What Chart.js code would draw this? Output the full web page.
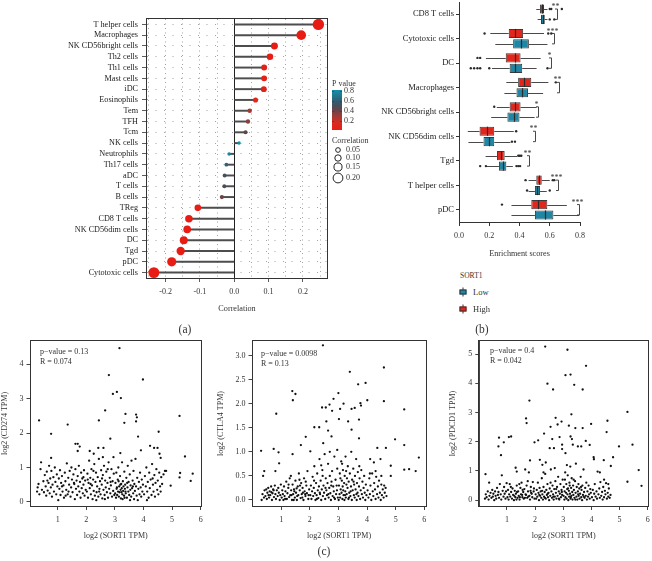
<!DOCTYPE html>
<html>
<head>
<meta charset="utf-8">
<script src="https://cdn.jsdelivr.net/npm/chart.js@4.4.1/dist/chart.umd.min.js"></script>
<style>
  body { margin: 0; background: #fff; width: 652px; height: 561px; position: relative; overflow: hidden;
         font-family: "Liberation Serif", "Times New Roman", serif; color: #333; }
  .panel { position: absolute; }
  .txt { position: absolute; white-space: nowrap; font-size: 8px; line-height: 1; color: #333; transform: translateY(-50%); }
  .tag { position: absolute; font-size: 11.5px; color: #333; transform: translate(-50%, -50%); }
  .key { position: absolute; width: 7px; height: 9px; transform: translate(-50%, -50%); }
  .key .stem { position: absolute; left: 3px; top: 0; width: 1px; height: 9px; background: #333; }
  .key .body { position: absolute; left: 0; top: 2px; width: 5px; height: 3px; border: 1px solid #333; }
</style>
</head>
<body>
<div class="panel" style="left:0;top:0;width:380px;height:318px"><canvas id="corrChart"></canvas></div>
<div class="panel" style="left:380px;top:0;width:272px;height:262px"><canvas id="boxChart"></canvas></div>
<div class="panel" style="left:0;top:335px;width:215px;height:225px"><canvas id="cd274Chart"></canvas></div>
<div class="panel" style="left:215px;top:335px;width:215px;height:225px"><canvas id="ctla4Chart"></canvas></div>
<div class="panel" style="left:430px;top:335px;width:222px;height:225px"><canvas id="pdcd1Chart"></canvas></div>

<div class="tag" style="left:185px;top:329px">(a)</div>
<div class="tag" style="left:482px;top:329px">(b)</div>
<div class="tag" style="left:324px;top:551px">(c)</div>

<div class="txt" style="left:460px;top:276px;font-size:7.5px">SORT1</div>
<div class="key" style="left:463px;top:292px"><div class="stem"></div><div class="body" style="background:#1f87a5"></div></div>
<div class="txt" style="left:473px;top:292px;font-size:8.5px">Low</div>
<div class="key" style="left:463px;top:309px"><div class="stem"></div><div class="body" style="background:#e2261c"></div></div>
<div class="txt" style="left:473px;top:309px;font-size:8.5px">High</div>

<div class="txt" style="left:40px;top:352px">p&#8722;value = 0.13</div>
<div class="txt" style="left:40px;top:362px">R = 0.074</div>
<div class="txt" style="left:261px;top:354px">p&#8722;value = 0.0098</div>
<div class="txt" style="left:261px;top:364px">R = 0.13</div>
<div class="txt" style="left:490px;top:351px">p&#8722;value = 0.4</div>
<div class="txt" style="left:490px;top:361px">R = 0.042</div>

<script>
// ---------- (a) correlation of SORT1 with immune cell infiltration ----------
const cellsA = ['T helper cells', 'Macrophages', 'NK CD56bright cells', 'Th2 cells', 'Th1 cells', 'Mast cells',
  'iDC', 'Eosinophils', 'Tem', 'TFH', 'Tcm', 'NK cells', 'Neutrophils', 'Th17 cells', 'aDC', 'T cells',
  'B cells', 'TReg', 'CD8 T cells', 'NK CD56dim cells', 'DC', 'Tgd', 'pDC', 'Cytotoxic cells'];
const corrValues = [0.245, 0.195, 0.117, 0.104, 0.087, 0.087, 0.086, 0.062, 0.045, 0.040, 0.033, 0.014,
  -0.015, -0.023, -0.028, -0.029, -0.036, -0.106, -0.132, -0.137, -0.147, -0.156, -0.182, -0.234];
const corrPValues = [0.00, 0.00, 0.01, 0.02, 0.04, 0.04, 0.04, 0.12, 0.30, 0.34, 0.45, 0.80,
  0.76, 0.62, 0.52, 0.50, 0.40, 0.02, 0.00, 0.00, 0.00, 0.00, 0.00, 0.00];
const corrTicks = [-0.25, -0.2, -0.15, -0.1, -0.05, 0, 0.05, 0.1, 0.15, 0.2, 0.25];
const pLegendTicks = [0.8, 0.6, 0.4, 0.2];
const sizeLegendTicks = [0.05, 0.10, 0.15, 0.20];

// ---------- (b) enrichment scores, SORT1 high vs low ----------
const cellsB = ['CD8 T cells', 'Cytotoxic cells', 'DC', 'Macrophages', 'NK CD56bright cells',
  'NK CD56dim cells', 'Tgd', 'T helper cells', 'pDC'];
const highLo  = [0.511, 0.207, 0.178, 0.313, 0.250, 0.058, 0.176, 0.460, 0.347];
const highQ1  = [0.535, 0.329, 0.309, 0.391, 0.335, 0.136, 0.251, 0.511, 0.478];
const highMed = [0.549, 0.373, 0.369, 0.429, 0.369, 0.184, 0.278, 0.527, 0.522];
const highQ3  = [0.562, 0.424, 0.407, 0.478, 0.407, 0.233, 0.302, 0.547, 0.584];
const highHi  = [0.585, 0.562, 0.540, 0.591, 0.513, 0.362, 0.384, 0.600, 0.713];
const highOut = [[0.600, 0.610, 0.680], [0.169, 0.590, 0.610], [0.122, 0.140], [0.640], [0.233],
  [0.378], [0.392, 0.402, 0.412], [0.440, 0.620, 0.630], [0.284]];
const lowLo  = [0.520, 0.240, 0.218, 0.300, 0.213, 0.062, 0.180, 0.460, 0.347];
const lowQ1  = [0.542, 0.358, 0.335, 0.380, 0.320, 0.162, 0.264, 0.502, 0.502];
const lowMed = [0.555, 0.413, 0.373, 0.418, 0.362, 0.196, 0.289, 0.518, 0.567];
const lowQ3  = [0.567, 0.462, 0.418, 0.456, 0.400, 0.233, 0.313, 0.536, 0.624];
const lowHi  = [0.585, 0.585, 0.513, 0.556, 0.500, 0.340, 0.356, 0.580, 0.795];
const lowOut = [[0.600, 0.630], [], [0.078, 0.100, 0.122, 0.140, 0.200, 0.585], [], [],
  [0.350, 0.370], [0.140, 0.178, 0.380, 0.392, 0.404], [0.450, 0.600], []];
const sigLabels = ['**', '***', '*', '**', '*', '**', '**', '***', '***'];
const sigPos = [0.650, 0.627, 0.610, 0.660, 0.524, 0.500, 0.460, 0.653, 0.795];
const enrichTicks = [0, 0.2, 0.4, 0.6, 0.8];

// ---------- (c) SORT1 vs checkpoint genes ----------
const sortTicks = [1, 2, 3, 4, 5, 6];
const cd274Ticks = [0, 1, 2, 3, 4];
const ctla4Ticks = [0, 0.5, 1, 1.5, 2, 2.5, 3];
const pdcd1Ticks = [0, 1, 2, 3, 4, 5];

const cd274Points = [
  [3.16,4.47],[3.98,3.56],[2.79,3.69],[3.07,3.2],[2.93,3.14],[3.21,3.02],[2.66,2.66],[3.37,2.56],[3.74,2.54],
  [3.77,2.46],[3.33,2.3],[3.74,2.34],[2.44,2.37],[0.35,2.37],[1.35,2.25],[5.26,2.5],[0.77,1.98],[4.53,2.04],
  [3.81,1.9],[2.84,1.84],[1.62,1.69],[1.7,1.69],[1.77,1.61],[1.7,1.48],[4.23,1.63],[4.37,1.57],[4.49,1.57],
  [2.42,1.57],[2.6,1.57],[2.12,1.48],[3.91,1.5],[4.56,1.4],[5.45,1.32],[3.19,1.42],[2.26,1.4],[4.6,1.28],
  [0.77,1.28],[5.72,0.82],[5.28,0.84],[5.26,0.71],[5.65,0.61],[4.95,0.47],[4.79,0.9],
  [0.28,0.3],[0.3,0.42],[0.33,0.52],[0.36,0.22],[0.4,0.95],[0.42,1.15],[0.45,0.35],[0.5,0.6],[0.52,0.28],
  [0.55,0.78],[0.58,0.45],[0.6,0.18],[0.62,0.88],[0.65,0.33],[0.68,0.55],[0.7,1.05],[0.72,0.25],[0.74,0.68],
  [0.76,0.42],[0.78,0.9],[0.8,0.15],[0.82,0.5],[0.85,0.72],[0.87,0.3],[0.9,1.0],[0.92,0.58],[0.95,0.22],
  [0.97,0.8],[0.99,0.45],[0.64,0.62],
  [1.02,0.05],[1.04,0.68],[1.06,0.38],[1.08,0.92],[1.1,0.2],[1.12,0.55],[1.15,0.75],[1.17,0.3],[1.2,0.48],
  [1.22,0.12],[1.25,0.85],[1.27,0.6],[1.3,0.35],[1.32,1.12],[1.35,0.22],[1.37,0.7],[1.4,0.5],[1.42,0.9],
  [1.45,0.15],[1.47,0.42],[1.5,0.65],[1.52,0.28],[1.55,0.8],[1.57,0.55],[1.6,0.08],[1.62,0.95],[1.64,0.38],
  [1.66,0.62],[1.68,0.2],[1.7,0.75],[1.72,0.45],[1.74,1.05],[1.76,0.3],[1.78,0.58],[1.8,0.12],[1.82,0.85],
  [1.84,0.4],[1.86,0.68],[1.88,0.25],[1.9,0.5],[1.92,0.92],[1.94,0.18],[1.96,0.62],[1.98,0.35],[1.15,0.45],
  [1.38,0.3],[1.58,0.52],[1.28,0.18],[1.48,1.0],[1.9,0.72],
  [2.02,0.3],[2.04,0.82],[2.06,0.12],[2.08,0.55],[2.1,1.2],[2.12,0.4],[2.14,0.7],[2.16,0.22],[2.18,0.95],
  [2.2,0.48],[2.22,0.08],[2.24,0.65],[2.26,0.32],[2.28,1.1],[2.3,0.18],[2.32,0.58],[2.34,0.85],[2.36,0.28],
  [2.38,0.45],[2.4,0.72],[2.42,0.15],[2.44,1.25],[2.46,0.38],[2.48,0.6],[2.5,0.22],[2.52,0.92],[2.54,0.5],
  [2.56,0.1],[2.58,0.78],[2.6,0.35],[2.62,1.05],[2.64,0.2],[2.66,0.62],[2.68,0.42],[2.7,0.88],[2.72,0.28],
  [2.74,0.55],[2.76,0.12],[2.78,1.15],[2.8,0.38],[2.82,0.7],[2.84,0.25],[2.86,0.48],[2.88,0.95],[2.9,0.15],
  [2.92,0.6],[2.94,0.32],[2.96,0.82],[2.98,0.2],[2.15,0.52],[2.35,0.05],[2.55,0.68],[2.75,0.95],[2.45,0.3],
  [2.65,0.08],[2.85,0.58],[2.25,0.9],[2.05,0.65],[2.95,1.3],[2.58,1.3],
  [3.01,0.25],[3.02,0.55],[3.04,0.12],[3.05,0.85],[3.06,0.38],[3.08,0.2],[3.1,0.65],[3.11,0.3],[3.12,1.0],
  [3.14,0.15],[3.15,0.45],[3.16,0.28],[3.18,0.75],[3.2,0.35],[3.21,0.1],[3.22,0.52],[3.24,0.4],[3.25,1.15],
  [3.26,0.22],[3.28,0.6],[3.29,0.32],[3.3,0.45],[3.32,0.18],[3.33,0.88],[3.35,0.38],[3.36,0.5],[3.38,0.25],
  [3.4,0.7],[3.42,0.12],[3.44,0.42],[3.45,1.05],[3.47,0.3],[3.48,0.58],[3.5,0.2],[3.52,0.8],[3.54,0.35],
  [3.55,0.48],[3.57,0.15],[3.58,1.2],[3.6,0.4],[3.62,0.62],[3.64,0.25],[3.65,0.9],[3.67,0.08],[3.68,0.52],
  [3.7,0.32],[3.72,1.25],[3.74,0.45],[3.76,0.18],[3.78,0.7],[3.8,0.05],[3.82,0.38],[3.84,0.58],[3.86,0.22],
  [3.88,0.85],[3.9,0.42],[3.92,0.15],[3.94,0.65],[3.96,0.3],[3.98,0.5],[3.07,0.42],[3.19,0.5],[3.27,0.08],
  [3.37,0.3],[3.43,0.55],[3.53,0.05],[3.63,0.45],[3.13,0.6],[3.23,0.28],[3.34,0.12],
  [4.02,0.22],[4.05,0.75],[4.08,0.45],[4.1,1.0],[4.13,0.3],[4.15,0.58],[4.18,0.12],[4.2,0.85],[4.22,0.4],
  [4.25,0.65],[4.28,0.2],[4.3,1.1],[4.33,0.5],[4.35,0.3],[4.38,0.78],[4.4,0.15],[4.42,0.55],[4.45,0.95],
  [4.48,0.35],[4.5,0.62],[4.52,0.22],[4.55,0.85],[4.58,0.45],[4.6,0.3],[4.62,0.72],[4.65,0.52],[4.7,0.8],
  [4.75,0.9],[4.12,0.05],[4.32,0.68]
];

const ctla4Points = [
  [2.46,3.21],[3.4,2.66],[4.59,2.75],[3.69,2.4],[3.95,2.43],[3.0,2.22],[1.39,2.26],[1.5,2.2],[1.41,2.07],
  [2.83,2.1],[3.18,2.0],[3.06,1.89],[2.43,1.92],[2.56,1.92],[2.69,1.98],[2.78,1.85],[3.46,1.89],[3.57,1.91],
  [3.77,2.01],[3.79,1.96],[4.01,2.07],[4.59,2.05],[5.3,1.88],[0.83,1.79],[2.58,1.63],[3.34,1.63],[3.72,1.67],
  [2.16,1.51],[2.33,1.51],[3.02,1.68],[2.64,1.44],[2.76,1.32],[1.86,1.31],[3.46,1.46],[3.72,1.28],[4.98,1.26],
  [5.3,1.14],[1.69,1.14],[2.47,1.18],[2.96,1.04],[4.36,1.08],[4.66,1.08],[0.3,1.02],[0.74,1.06],[0.91,0.99],
  [1.4,0.95],[2.02,1.01],[5.81,0.88],[4.11,0.85],[4.24,0.78],[4.47,0.85],[4.83,0.71],[0.93,0.76],[5.3,0.63],
  [5.47,0.64],[5.7,0.6],[0.41,0.6],[0.37,0.5],[0.8,0.6],[4.83,0.5],
  [0.32,0.0],[0.35,0.12],[0.4,0.05],[0.42,0.2],[0.45,0.08],[0.48,0.22],[0.5,0.02],[0.52,0.15],[0.55,0.25],
  [0.58,0.05],[0.6,0.18],[0.62,0.1],[0.65,0.28],[0.68,0.0],[0.7,0.14],[0.72,0.22],[0.75,0.06],[0.78,0.3],
  [0.8,0.12],[0.82,0.02],[0.85,0.2],[0.88,0.08],[0.9,0.25],[0.92,0.15],[0.95,0.0],[0.97,0.1],[0.99,0.32],
  [0.66,0.16],[0.74,0.2],[0.56,0.1],
  [1.02,0.05],[1.04,0.2],[1.06,0.12],[1.08,0.0],[1.1,0.28],[1.12,0.08],[1.15,0.18],[1.18,0.38],[1.2,0.02],
  [1.22,0.14],[1.25,0.25],[1.28,0.06],[1.3,0.45],[1.32,0.1],[1.35,0.2],[1.38,0.0],[1.4,0.32],[1.42,0.12],
  [1.45,0.22],[1.48,0.05],[1.5,0.4],[1.52,0.15],[1.55,0.0],[1.58,0.28],[1.6,0.1],[1.62,0.55],[1.65,0.2],
  [1.68,0.04],[1.7,0.35],[1.72,0.12],[1.75,0.25],[1.78,0.0],[1.8,0.45],[1.82,0.18],[1.85,0.08],[1.88,0.3],
  [1.9,0.14],[1.92,0.6],[1.95,0.02],[1.98,0.22],[1.14,0.02],[1.26,0.32],[1.36,0.1],[1.46,0.18],[1.56,0.08],
  [1.66,0.3],[1.76,0.15],[1.86,0.38],[1.96,0.1],[1.34,0.5],[1.44,0.0],[1.54,0.24],[1.64,0.42],[1.74,0.05],
  [1.84,0.12],
  [2.02,0.1],[2.04,0.3],[2.06,0.02],[2.08,0.18],[2.1,0.48],[2.12,0.08],[2.14,0.25],[2.16,0.7],[2.18,0.14],
  [2.2,0.0],[2.22,0.35],[2.24,0.1],[2.26,0.55],[2.28,0.2],[2.3,0.04],[2.32,0.28],[2.34,0.85],[2.36,0.12],
  [2.38,0.4],[2.4,0.0],[2.42,0.22],[2.44,0.62],[2.46,0.08],[2.48,0.3],[2.5,0.15],[2.52,0.95],[2.54,0.02],
  [2.56,0.45],[2.58,0.2],[2.6,0.1],[2.62,0.35],[2.64,0.75],[2.66,0.05],[2.68,0.25],[2.7,0.5],[2.72,0.14],
  [2.74,0.0],[2.76,0.38],[2.78,0.6],[2.8,0.08],[2.82,0.28],[2.84,0.18],[2.86,0.9],[2.88,0.02],[2.9,0.42],
  [2.92,0.12],[2.94,0.3],[2.96,0.65],[2.98,0.05],[2.15,0.4],[2.25,0.02],[2.35,0.15],[2.45,0.5],[2.55,0.25],
  [2.65,0.12],[2.75,0.3],[2.85,0.05],[2.95,0.2],[2.4,0.72],[2.7,1.0],
  [3.01,0.0],[3.02,0.3],[3.04,0.12],[3.05,0.55],[3.06,0.05],[3.08,0.22],[3.1,0.8],[3.11,0.15],[3.12,0.4],
  [3.14,0.02],[3.15,0.28],[3.16,0.62],[3.18,0.1],[3.2,0.35],[3.21,0.0],[3.22,0.5],[3.24,0.18],[3.25,0.9],
  [3.26,0.05],[3.28,0.32],[3.29,0.12],[3.3,0.45],[3.32,0.25],[3.33,0.7],[3.35,0.02],[3.36,0.38],[3.38,0.15],
  [3.4,0.55],[3.42,0.08],[3.44,0.28],[3.45,1.0],[3.47,0.0],[3.48,0.42],[3.5,0.2],[3.52,0.65],[3.54,0.1],
  [3.55,0.32],[3.57,0.05],[3.58,0.5],[3.6,0.22],[3.62,0.85],[3.64,0.0],[3.65,0.35],[3.67,0.15],[3.68,0.58],
  [3.7,0.08],[3.72,0.28],[3.74,0.45],[3.76,0.02],[3.78,0.2],[3.8,0.62],[3.82,0.12],[3.84,0.38],[3.86,0.05],
  [3.88,0.25],[3.9,0.5],[3.92,0.15],[3.94,0.0],[3.96,0.32],[3.98,0.1],[3.07,0.45],[3.17,0.2],[3.27,0.6],
  [3.37,0.05],[3.43,0.18],[3.53,0.38],[3.63,0.12],[3.73,0.7],[3.13,0.75],[3.23,0.1],
  [4.02,0.2],[4.05,0.05],[4.08,0.45],[4.1,0.12],[4.12,0.3],[4.15,0.0],[4.18,0.55],[4.2,0.18],[4.22,0.08],
  [4.25,0.35],[4.28,0.22],[4.3,0.02],[4.32,0.48],[4.35,0.12],[4.38,0.28],[4.4,0.05],[4.42,0.4],[4.45,0.15],
  [4.48,0.0],[4.5,0.32],[4.52,0.1],[4.55,0.22],[4.58,0.05],[4.6,0.3],[4.62,0.15],[4.65,0.25],[4.68,0.08],
  [4.1,0.55],[4.3,0.6],[4.5,0.5]
];

const pdcd1Points = [
  [2.36,5.26],[3.15,5.15],[3.81,4.6],[3.08,4.28],[3.26,4.3],[2.44,3.99],[3.39,3.95],[2.64,3.79],[3.69,3.79],
  [1.8,3.41],[5.28,3.02],[3.29,2.94],[1.68,2.8],[2.73,2.82],[1.7,2.64],[2.94,2.69],[4.57,2.72],[2.8,2.59],
  [2.55,2.51],[3.2,2.55],[3.43,2.47],[3.69,2.47],[3.99,2.61],[2.32,2.28],[4.54,2.33],[0.72,2.14],[1.07,2.16],
  [1.15,2.18],[0.89,1.98],[1.98,1.98],[2.11,2.05],[2.61,2.09],[2.87,2.16],[3.26,2.18],[3.31,2.09],[2.96,1.9],
  [3.34,1.9],[2.52,1.78],[2.67,1.78],[3.8,2.03],[2.96,1.75],[3.08,1.61],[3.52,1.84],[3.64,1.84],[3.94,1.89],
  [4.98,1.84],[5.46,1.9],[0.7,1.84],[0.79,1.54],[4.77,1.47],[4.08,1.47],[4.09,1.4],[4.44,1.37],[1.82,1.36],
  [2.17,1.38],[2.26,1.21],[2.38,1.29],[1.31,1.11],[1.35,0.98],[0.24,0.89],[5.68,1.03],[5.78,0.49],[5.28,0.63],
  [4.69,1.17],[0.37,0.6],
  [0.22,0.05],[0.25,0.2],[0.28,0.1],[0.32,0.3],[0.35,0.02],[0.38,0.15],[0.42,0.25],[0.45,0.08],[0.48,0.35],
  [0.5,0.12],[0.52,0.22],[0.55,0.0],[0.58,0.3],[0.6,0.15],[0.62,0.05],[0.65,0.42],[0.68,0.18],[0.7,0.28],
  [0.72,0.08],[0.75,0.55],[0.78,0.2],[0.8,0.02],[0.82,0.85],[0.85,0.32],[0.88,0.12],[0.9,0.45],[0.92,0.22],
  [0.95,0.05],[0.97,0.3],[0.99,0.58],
  [1.02,0.1],[1.04,0.35],[1.06,0.02],[1.08,0.2],[1.1,0.55],[1.12,0.12],[1.15,0.28],[1.18,0.05],[1.2,0.4],
  [1.22,0.18],[1.25,0.0],[1.28,0.32],[1.3,0.1],[1.32,0.22],[1.35,0.5],[1.38,0.08],[1.4,0.3],[1.42,0.15],
  [1.45,0.02],[1.48,0.42],[1.5,0.2],[1.52,0.6],[1.55,0.1],[1.58,0.28],[1.6,0.05],[1.62,0.38],[1.65,1.05],
  [1.68,0.18],[1.7,0.5],[1.72,0.08],[1.75,0.3],[1.78,0.95],[1.8,0.15],[1.82,0.02],[1.85,0.45],[1.88,0.22],
  [1.9,0.1],[1.92,0.62],[1.95,0.3],[1.98,0.05],[1.14,0.45],[1.26,0.15],[1.36,0.28],[1.46,0.1],[1.56,0.35],
  [1.66,0.2],[1.76,0.12],[1.86,0.25],[1.96,0.4],[1.34,0.02],[1.44,0.55],[1.54,0.18],[1.64,0.08],[1.74,0.65],
  [1.84,0.32],
  [2.02,0.2],[2.04,0.05],[2.06,0.35],[2.08,0.12],[2.1,0.6],[2.12,0.25],[2.14,0.0],[2.16,0.42],[2.18,0.15],
  [2.2,0.3],[2.22,0.08],[2.24,0.75],[2.26,0.2],[2.28,0.02],[2.3,0.45],[2.32,0.12],[2.34,0.28],[2.36,0.9],
  [2.38,0.05],[2.4,0.35],[2.42,0.18],[2.44,0.55],[2.46,0.1],[2.48,0.25],[2.5,0.0],[2.52,0.4],[2.54,0.15],
  [2.56,1.05],[2.58,0.3],[2.6,0.08],[2.62,0.5],[2.64,0.2],[2.66,0.02],[2.68,0.38],[2.7,0.12],[2.72,0.65],
  [2.74,0.25],[2.76,0.05],[2.78,0.45],[2.8,0.15],[2.82,0.8],[2.84,0.3],[2.86,0.02],[2.88,0.22],[2.9,0.55],
  [2.92,0.1],[2.94,0.35],[2.96,0.18],[2.98,0.7],[2.15,0.18],[2.25,0.32],[2.35,0.08],[2.45,0.22],[2.55,0.6],
  [2.65,0.12],[2.75,0.38],[2.85,0.05],[2.95,0.28],[2.3,0.95],[2.7,1.1],
  [3.01,0.15],[3.02,0.45],[3.04,0.02],[3.05,0.3],[3.06,0.7],[3.08,0.1],[3.1,0.25],[3.11,0.55],[3.12,0.05],
  [3.14,0.38],[3.15,0.2],[3.16,0.85],[3.18,0.0],[3.2,0.32],[3.21,0.12],[3.22,0.6],[3.24,0.22],[3.25,1.15],
  [3.26,0.05],[3.28,0.42],[3.29,0.15],[3.3,0.75],[3.32,0.28],[3.33,0.02],[3.35,0.5],[3.36,0.18],[3.38,0.35],
  [3.4,0.08],[3.42,0.65],[3.44,0.25],[3.45,1.25],[3.47,0.12],[3.48,0.45],[3.5,0.02],[3.52,0.3],[3.54,0.55],
  [3.55,0.15],[3.57,0.4],[3.58,0.05],[3.6,0.22],[3.62,0.8],[3.64,0.1],[3.65,0.35],[3.67,0.0],[3.68,0.5],
  [3.7,0.18],[3.72,1.05],[3.74,0.28],[3.76,0.08],[3.78,0.42],[3.8,0.15],[3.82,0.6],[3.84,0.02],[3.86,0.3],
  [3.88,0.12],[3.9,0.5],[3.92,0.2],[3.94,0.05],[3.96,0.38],[3.98,0.25],[3.07,0.95],[3.17,0.4],[3.27,0.1],
  [3.37,0.7],[3.43,0.02],[3.53,0.2],[3.63,0.45],[3.73,0.12],[3.13,1.2],[3.23,0.5],
  [4.02,0.1],[4.05,0.35],[4.08,0.0],[4.1,0.22],[4.12,0.55],[4.15,0.12],[4.18,0.3],[4.2,0.05],[4.22,0.98],
  [4.25,0.2],[4.28,0.4],[4.3,0.08],[4.32,0.62],[4.35,0.15],[4.38,0.28],[4.4,0.02],[4.42,0.45],[4.45,0.1],
  [4.48,0.32],[4.5,0.2],[4.52,0.58],[4.55,0.05],[4.58,0.25],[4.6,0.12],[4.62,0.4],[4.65,0.08],[4.68,0.18],
  [4.3,0.95],[4.45,0.7],[4.6,0.55]
];

Chart.defaults.font.family = '"Liberation Serif", "Times New Roman", serif';
Chart.defaults.color = '#333';

// P value colour ramp (red = small p, teal = large p)
const pStops = [[0, [232, 28, 20]], [0.15, [222, 42, 30]], [0.3, [160, 60, 56]], [0.45, [88, 70, 80]],
  [0.6, [46, 94, 112]], [0.8, [22, 142, 168]], [1, [22, 150, 176]]];
function pColor(p) {
  for (let k = 1; k < pStops.length; k++) {
    if (p <= pStops[k][0]) {
      const [a, ca] = pStops[k - 1], [b, cb] = pStops[k];
      const t = (p - a) / (b - a);
      return 'rgb(' + ca.map((c, j) => Math.round(c + (cb[j] - c) * t)).join(',') + ')';
    }
  }
  return 'rgb(22,150,176)';
}
const dotRadius = c => 1.5 + 17 * Math.abs(c);

// fixes an axis' size and drops the label overhang padding
const fixAxis = size => s => {
  if (s.isHorizontal()) s.height = size; else s.width = size;
  s.paddingTop = s.paddingBottom = s.paddingLeft = s.paddingRight = 0;
};

const framePlugin = {
  id: 'frame',
  afterDraw(chart) {
    const {ctx, chartArea: a} = chart;
    ctx.save();
    ctx.strokeStyle = '#333';
    ctx.lineWidth = 1;
    const l = Math.round(a.left) - 0.5, t = Math.round(a.top) - 0.5;
    ctx.strokeRect(l, t, Math.round(a.right) - Math.round(a.left) + 1, Math.round(a.bottom) - Math.round(a.top) + 1);
    ctx.restore();
  }
};

const zeroLinePlugin = {
  id: 'zeroLine',
  beforeDatasetsDraw(chart) {
    const {ctx, chartArea: a, scales: {x}} = chart;
    const px = Math.round(x.getPixelForValue(0)) + 0.5;
    ctx.save();
    ctx.strokeStyle = '#222';
    ctx.lineWidth = 1;
    ctx.beginPath();
    ctx.moveTo(px, a.top);
    ctx.lineTo(px, a.bottom);
    ctx.stroke();
    ctx.restore();
  }
};

// P value colour bar + correlation size key, right of panel (a)
const pLegendPlugin = {
  id: 'pLegend',
  afterDraw(chart) {
    const {ctx, chartArea: a} = chart;
    const left = a.right + 5;
    const barTop = 90, barBottom = 130, pTop = 0.82, pBottom = 0.02;
    const yOfP = p => barBottom - (p - pBottom) / (pTop - pBottom) * (barBottom - barTop);
    ctx.save();
    ctx.fillStyle = '#333';
    ctx.font = '8px "Liberation Serif"';
    ctx.textBaseline = 'middle';
    ctx.fillText('P value', left, 84);
    const grad = ctx.createLinearGradient(0, barBottom, 0, barTop);
    for (let k = 0; k <= 10; k++) {
      const p = pBottom + (pTop - pBottom) * k / 10;
      grad.addColorStop(k / 10, pColor(p));
    }
    ctx.fillStyle = grad;
    ctx.fillRect(left, barTop, 10, barBottom - barTop);
    ctx.fillStyle = '#333';
    pLegendTicks.forEach(p => {
      const y = yOfP(p);
      ctx.fillRect(left, y, 2, 0.6);
      ctx.fillRect(left + 8, y, 2, 0.6);
      ctx.fillText(p.toFixed(1), left + 12, y);
    });
    ctx.fillText('Correlation', left, 141);
    const circleY = [150, 158, 167, 178];
    ctx.strokeStyle = '#222';
    ctx.lineWidth = 1;
    sizeLegendTicks.forEach((c, k) => {
      ctx.beginPath();
      ctx.arc(left + 6, circleY[k], dotRadius(c), 0, Math.PI * 2);
      ctx.stroke();
      ctx.fillText(c.toFixed(2), left + 14, circleY[k]);
    });
    ctx.restore();
  }
};

// ---------- panel (a) ----------
new Chart(document.getElementById('corrChart'), {
  type: 'bar',
  data: {
    labels: cellsA,
    datasets: [
      {
        type: 'line', indexAxis: 'y', data: corrValues, showLine: false,
        pointRadius: corrValues.map(dotRadius), pointHoverRadius: corrValues.map(dotRadius),
        pointBackgroundColor: corrPValues.map(pColor), pointBorderWidth: 0, order: 0
      },
      { type: 'bar', indexAxis: 'y', data: corrValues, backgroundColor: '#4d4d4d', barThickness: 1.3, order: 1 }
    ]
  },
  options: {
    indexAxis: 'y',
    responsive: true,
    maintainAspectRatio: false,
    animation: false,
    events: [],
    layout: { padding: { top: 19, right: 53, left: 0, bottom: 0 } },
    plugins: { legend: { display: false }, tooltip: { enabled: false } },
    scales: {
      x: {
        type: 'linear', min: -0.254, max: 0.27,
        afterBuildTicks: s => { s.ticks = corrTicks.map(v => ({ value: v })); },
        afterFit: fixAxis(40),
        ticks: {
          font: { size: 8 }, color: '#333', padding: 5.5, maxRotation: 0, autoSkip: false,
          callback: v => (Math.round(v * 100) % 10 === 0 ? v.toFixed(1) : '')
        },
        grid: {
          color: '#8c8c8c', lineWidth: 0.8, tickLength: 4,
          tickColor: c => (c.tick && c.tick.label ? '#333' : 'rgba(0,0,0,0)')
        },
        border: { display: false, dash: [1, 3.5] },
        title: { display: true, text: 'Correlation', font: { size: 8.2 }, color: '#333', padding: { top: 0, bottom: 4.6 } }
      },
      y: {
        type: 'category', offset: true,
        afterFit: fixAxis(147),
        ticks: { font: { size: 8.2 }, color: '#222', padding: 4, autoSkip: false },
        grid: { offset: false, color: '#8c8c8c', lineWidth: 0.8, tickLength: 5, tickColor: '#333' },
        border: { display: false, dash: [1, 7.5] }
      }
    }
  },
  plugins: [zeroLinePlugin, framePlugin, pLegendPlugin]
});

// ---------- panel (b) ----------
const boxGroups = [
  { lo: highLo, med: highMed, q1: highQ1, q3: highQ3, hi: highHi, out: highOut },
  { lo: lowLo, med: lowMed, q1: lowQ1, q3: lowQ3, hi: lowHi, out: lowOut }
];

const boxPlugin = {
  id: 'boxExtras',
  beforeDatasetsDraw(chart) {
    const {ctx, scales: {x}} = chart;
    ctx.save();
    ctx.strokeStyle = '#4a4a4a';
    ctx.lineWidth = 1;
    boxGroups.forEach((g, d) => {
      chart.getDatasetMeta(d).data.forEach((el, i) => {
        const y = Math.round(el.y) + 0.5;
        ctx.beginPath();
        ctx.moveTo(x.getPixelForValue(g.lo[i]), y);
        ctx.lineTo(x.getPixelForValue(g.q1[i]), y);
        ctx.moveTo(x.getPixelForValue(g.q3[i]), y);
        ctx.lineTo(x.getPixelForValue(g.hi[i]), y);
        ctx.stroke();
      });
    });
    ctx.restore();
  },
  afterDatasetsDraw(chart) {
    const {ctx, scales: {x}} = chart;
    ctx.save();
    boxGroups.forEach((g, d) => {
      chart.getDatasetMeta(d).data.forEach((el, i) => {
        const mx = Math.round(x.getPixelForValue(g.med[i])) + 0.5;
        ctx.strokeStyle = '#2a2a2a';
        ctx.lineWidth = 1.2;
        ctx.beginPath();
        ctx.moveTo(mx, el.y - el.height / 2);
        ctx.lineTo(mx, el.y + el.height / 2);
        ctx.stroke();
        ctx.fillStyle = '#2a2a2a';
        g.out[i].forEach(v => {
          ctx.beginPath();
          ctx.arc(x.getPixelForValue(v), el.y, 1.2, 0, Math.PI * 2);
          ctx.fill();
        });
      });
    });
    const highMeta = chart.getDatasetMeta(0), lowMeta = chart.getDatasetMeta(1);
    ctx.strokeStyle = '#333';
    ctx.lineWidth = 0.9;
    ctx.fillStyle = '#333';
    ctx.font = '8px "Liberation Serif"';
    ctx.textAlign = 'center';
    ctx.textBaseline = 'middle';
    sigPos.forEach((v, i) => {
      const bx = Math.round(x.getPixelForValue(v)) + 0.5;
      const yH = highMeta.data[i].y, yL = lowMeta.data[i].y;
      ctx.beginPath();
      ctx.moveTo(bx - 2.5, yH);
      ctx.lineTo(bx, yH);
      ctx.lineTo(bx, yL);
      ctx.lineTo(bx - 2.5, yL);
      ctx.stroke();
      ctx.fillText(sigLabels[i], bx - 2, yH - 2);
    });
    ctx.restore();
  }
};

new Chart(document.getElementById('boxChart'), {
  type: 'bar',
  data: {
    labels: cellsB,
    datasets: [
      {
        label: 'High', data: highQ1.map((q, i) => [q, highQ3[i]]), backgroundColor: '#e2261c',
        borderColor: '#3a3a3a', borderWidth: 1, borderSkipped: false, categoryPercentage: 0.85, barPercentage: 0.88
      },
      {
        label: 'Low', data: lowQ1.map((q, i) => [q, lowQ3[i]]), backgroundColor: '#1f87a5',
        borderColor: '#3a3a3a', borderWidth: 1, borderSkipped: false, categoryPercentage: 0.85, barPercentage: 0.88
      }
    ]
  },
  options: {
    indexAxis: 'y',
    responsive: true,
    maintainAspectRatio: false,
    animation: false,
    events: [],
    layout: { padding: { top: 2, right: 72, left: 0, bottom: 0 } },
    plugins: { legend: { display: false }, tooltip: { enabled: false } },
    scales: {
      x: {
        type: 'linear', min: 0, max: 0.8,
        afterBuildTicks: s => { s.ticks = enrichTicks.map(v => ({ value: v })); },
        afterFit: fixAxis(40),
        ticks: { font: { size: 8 }, color: '#333', padding: 5.5, maxRotation: 0, callback: v => v.toFixed(1) },
        grid: { drawOnChartArea: false, tickLength: 4, tickColor: '#333' },
        border: { color: '#333' },
        title: { display: true, text: 'Enrichment scores', font: { size: 8.2 }, color: '#333', padding: { top: 0, bottom: 3.6 } }
      },
      y: {
        afterFit: fixAxis(79),
        ticks: { font: { size: 8.5 }, color: '#222', padding: 2, autoSkip: false },
        grid: { drawOnChartArea: false, offset: false, tickLength: 3, tickColor: '#333' },
        border: { color: '#333' }
      }
    }
  },
  plugins: [boxPlugin]
});

// ---------- panel (c) ----------
function scatterPlot(id, points, xMin, xMax, yMin, yMax, yTicks, yDigits, yTitle, axisW, padRight, titlePad) {
  return new Chart(document.getElementById(id), {
    type: 'scatter',
    data: {
      datasets: [{
        data: points.map(p => ({ x: p[0], y: p[1] })),
        pointRadius: 1.15, pointBackgroundColor: '#111', pointBorderWidth: 0
      }]
    },
    options: {
      responsive: true,
      maintainAspectRatio: false,
      animation: false,
      events: [],
      layout: { padding: { top: 6, right: padRight, left: 0, bottom: 0 } },
      plugins: { legend: { display: false }, tooltip: { enabled: false } },
      scales: {
        x: {
          type: 'linear', min: xMin, max: xMax,
          afterBuildTicks: s => { s.ticks = sortTicks.map(v => ({ value: v })); },
          afterFit: fixAxis(54),
          ticks: { font: { size: 8 }, color: '#333', padding: 5, maxRotation: 0, autoSkip: false, callback: v => String(v) },
          grid: { drawOnChartArea: false, tickLength: 4, tickColor: '#444' },
          border: { color: '#444' },
          title: { display: true, text: 'log2 (SORT1 TPM)', font: { size: 8 }, color: '#333', padding: { top: 0, bottom: 19.6 } }
        },
        y: {
          type: 'linear', min: yMin, max: yMax,
          afterBuildTicks: s => { s.ticks = yTicks.map(v => ({ value: v })); },
          afterFit: fixAxis(axisW),
          ticks: { font: { size: 8 }, color: '#333', padding: 3, autoSkip: false, callback: v => v.toFixed(yDigits) },
          grid: { drawOnChartArea: false, tickLength: 4, tickColor: '#444' },
          border: { color: '#444' },
          title: { display: true, text: yTitle, font: { size: 8 }, color: '#333', padding: { top: titlePad, bottom: 0 } }
        }
      }
    },
    plugins: [framePlugin]
  });
}

scatterPlot('cd274Chart', cd274Points, 0.05, 6.01, -0.12, 4.68, cd274Ticks, 0, 'log2 (CD274 TPM)', 30.5, 14, 0);
scatterPlot('ctla4Chart', ctla4Points, 0.0, 6.05, -0.125, 3.3, ctla4Ticks, 1, 'log2 (CTLA4 TPM)', 37.5, 4.3, 1.6);
scatterPlot('pdcd1Chart', pdcd1Points, 0.02, 6.01, -0.2, 5.45, pdcd1Ticks, 0, 'log2 (PDCD1 TPM)', 49.3, 1.3, 18.6);
</script>
</body>
</html>
